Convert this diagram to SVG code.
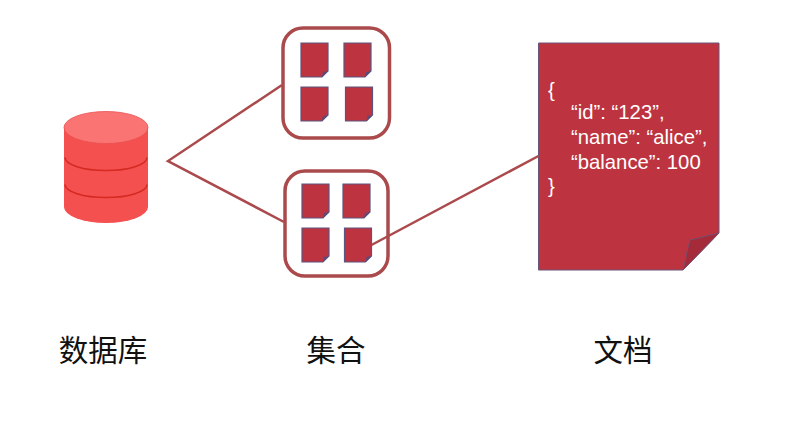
<svg xmlns="http://www.w3.org/2000/svg" width="809" height="424" viewBox="0 0 809 424">
<style>
.box{fill:#fff;stroke:#ab4a4c;stroke-width:3.5}
.wire{fill:none;stroke:#ab4a4c;stroke-width:2.5}
.page{fill:#bd3340;stroke:#6a5578;stroke-width:1}
.minipage{fill:#bd3340;stroke:#5d5580;stroke-width:1.2}
.fold{fill:#a52a3a;stroke:#75506e;stroke-width:1}
.minifold{fill:#5d4a78}
.label{font-family:"Noto Sans CJK SC","Noto Sans",sans-serif;font-size:29.500px;fill:#111;text-anchor:middle}
.code{font-family:"Liberation Sans",Arial,sans-serif;font-size:20.300px;fill:#fff}
.band{fill:none;stroke:#d42a22;stroke-width:1.600}
</style>
<defs>
<g id="mini">
<path class="minipage" d="M0 0H27V28L21 34H0Z"/>
<path class="minifold" d="M21 34L22 29L27 28Z"/>
</g>
</defs>
<rect width="809" height="424" fill="#fff"/>
<g id="database">
<path d="M64 128V207A42 16 0 0 0 148 207V128Z" fill="#f4504f"/>
<path class="band" d="M65 157.500A41 13 0 0 0 147 157.500"/>
<path class="band" d="M65 184.500A41 13 0 0 0 147 184.500"/>
<ellipse cx="106" cy="127.500" rx="42" ry="16" fill="#fb7474" stroke="#ea5050" stroke-width="0.800"/>
</g>
<g id="collection-1">
<rect class="box" x="283" y="28" width="106.500" height="110" rx="20"/>
<use href="#mini" x="301" y="43"/>
<use href="#mini" x="344" y="43"/>
<use href="#mini" x="301" y="87"/>
<use href="#mini" x="345.500" y="87"/>
</g>
<g id="collection-2">
<rect class="box" x="285" y="171" width="103" height="105" rx="20"/>
<use href="#mini" x="302" y="184"/>
<use href="#mini" x="343" y="184"/>
<use href="#mini" x="302" y="228"/>
<use href="#mini" x="344.500" y="228"/>
</g>
<g id="document">
<path class="page" d="M538.500 43H719V233L683 270H538.500Z"/>
<path class="fold" d="M683 270C686 259 687 249 690 240C700 238 710 235 719 233Z"/>
<text class="code" x="548" y="97">{</text>
<text class="code" x="571" y="119">“id”: “123”,</text>
<text class="code" x="571" y="144">“name”: “alice”,</text>
<text class="code" x="571" y="169">“balance”: 100</text>
<text class="code" x="548" y="193">}</text>
</g>
<g id="connectors">
<path class="wire" d="M282 85L168 161L284 222"/>
<path class="wire" d="M371.500 245L538.500 156"/>
</g>
<g id="labels">
<text class="label" x="103" y="361">数据库</text>
<text class="label" x="336" y="361">集合</text>
<text class="label" x="623" y="361">文档</text>
</g>
</svg>
